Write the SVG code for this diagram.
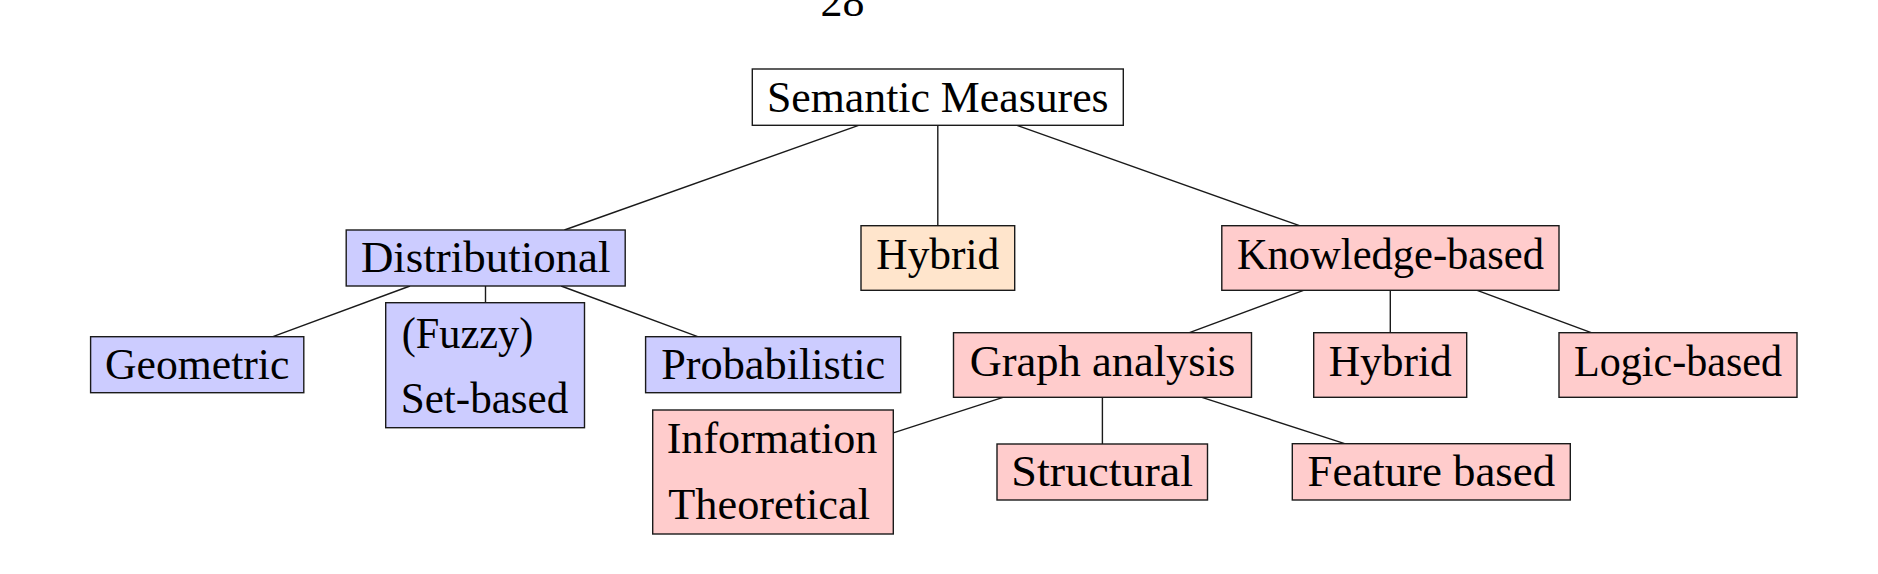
<svg xmlns="http://www.w3.org/2000/svg" width="1878" height="574" viewBox="0 0 1878 574">
<style>
  .box { stroke: #1a1a1a; stroke-width: 1.4; }
  .white { fill: #ffffff; }
  .blue { fill: #ccccff; }
  .orange { fill: #ffe5cc; }
  .red { fill: #ffcccc; }
  text { font-family: "Liberation Serif", "Times New Roman", serif; font-size: 44px; fill: #000000; }
  .c { text-anchor: middle; }
  .edge { stroke: #1a1a1a; stroke-width: 1.4; fill: none; }
</style>
<rect x="0" y="0" width="1878" height="574" fill="#ffffff"/>
<text id="page-number" class="c" x="842.5" y="16">28</text>
<g id="connectors">
  <line class="edge" x1="858.6" y1="125.35" x2="564.4" y2="230"/>
  <line class="edge" x1="937.8" y1="125.35" x2="937.8" y2="225.7"/>
  <line class="edge" x1="1017" y1="125.35" x2="1299.5" y2="225.7"/>
  <line class="edge" x1="410" y1="286" x2="272.9" y2="336.7"/>
  <line class="edge" x1="485.5" y1="286" x2="485.5" y2="302.7"/>
  <line class="edge" x1="561.1" y1="286" x2="697.7" y2="336.7"/>
  <line class="edge" x1="1303.5" y1="290.3" x2="1189.4" y2="332.7"/>
  <line class="edge" x1="1390.3" y1="290.3" x2="1390.3" y2="332.7"/>
  <line class="edge" x1="1477.2" y1="290.3" x2="1591.2" y2="332.7"/>
  <line class="edge" x1="1003" y1="397.3" x2="893.3" y2="432.9"/>
  <line class="edge" x1="1102.4" y1="397.3" x2="1102.4" y2="444"/>
  <line class="edge" x1="1201.9" y1="397.3" x2="1344.7" y2="443.7"/>
</g>
<g id="semantic-measures">
  <rect class="box white" x="752.3" y="69" width="371" height="56.3"/>
  <text class="c" x="937.8" y="111.6" textLength="341.6" lengthAdjust="spacingAndGlyphs">Semantic Measures</text>
</g>
<g id="distributional">
  <rect class="box blue" x="346.2" y="230" width="279" height="56"/>
  <text class="c" x="485.7" y="272.4" textLength="249.6" lengthAdjust="spacingAndGlyphs">Distributional</text>
</g>
<g id="hybrid">
  <rect class="box orange" x="861" y="225.7" width="153.7" height="64.6"/>
  <text class="c" x="937.8" y="268.5" textLength="123" lengthAdjust="spacingAndGlyphs">Hybrid</text>
</g>
<g id="knowledge-based">
  <rect class="box red" x="1221.8" y="225.7" width="337.2" height="64.6"/>
  <text class="c" x="1390.4" y="268.5" textLength="307" lengthAdjust="spacingAndGlyphs">Knowledge-based</text>
</g>
<g id="geometric">
  <rect class="box blue" x="90.6" y="336.7" width="213.2" height="56"/>
  <text class="c" x="197.2" y="379" textLength="184.4" lengthAdjust="spacingAndGlyphs">Geometric</text>
</g>
<g id="fuzzy-set-based">
  <rect class="box blue" x="385.7" y="302.7" width="198.8" height="125"/>
  <text x="401.7" y="348.3" textLength="131.6" lengthAdjust="spacingAndGlyphs">(Fuzzy)</text>
  <text x="400.7" y="413.3" textLength="167.6" lengthAdjust="spacingAndGlyphs">Set-based</text>
</g>
<g id="probabilistic">
  <rect class="box blue" x="645.6" y="336.7" width="255.1" height="56"/>
  <text class="c" x="773.15" y="379" textLength="224" lengthAdjust="spacingAndGlyphs">Probabilistic</text>
</g>
<g id="graph-analysis">
  <rect class="box red" x="953.5" y="332.7" width="298" height="64.6"/>
  <text class="c" x="1102.5" y="375.5" textLength="265.7" lengthAdjust="spacingAndGlyphs">Graph analysis</text>
</g>
<g id="hybrid-kb">
  <rect class="box red" x="1313.7" y="332.7" width="153" height="64.6"/>
  <text class="c" x="1390.2" y="375.5" textLength="123" lengthAdjust="spacingAndGlyphs">Hybrid</text>
</g>
<g id="logic-based">
  <rect class="box red" x="1559" y="332.7" width="238" height="64.6"/>
  <text class="c" x="1678" y="375.5" textLength="208" lengthAdjust="spacingAndGlyphs">Logic-based</text>
</g>
<g id="information-theoretical">
  <rect class="box red" x="652.7" y="410" width="240.6" height="124"/>
  <text x="666.7" y="453.3" textLength="210.6" lengthAdjust="spacingAndGlyphs">Information</text>
  <text x="668.3" y="519.3" textLength="201.7" lengthAdjust="spacingAndGlyphs">Theoretical</text>
</g>
<g id="structural">
  <rect class="box red" x="997" y="444" width="210.5" height="56"/>
  <text class="c" x="1102.25" y="486.4" textLength="181.8" lengthAdjust="spacingAndGlyphs">Structural</text>
</g>
<g id="feature-based">
  <rect class="box red" x="1292.3" y="443.7" width="278" height="56.3"/>
  <text class="c" x="1431.3" y="486.4" textLength="247.6" lengthAdjust="spacingAndGlyphs">Feature based</text>
</g>
</svg>
